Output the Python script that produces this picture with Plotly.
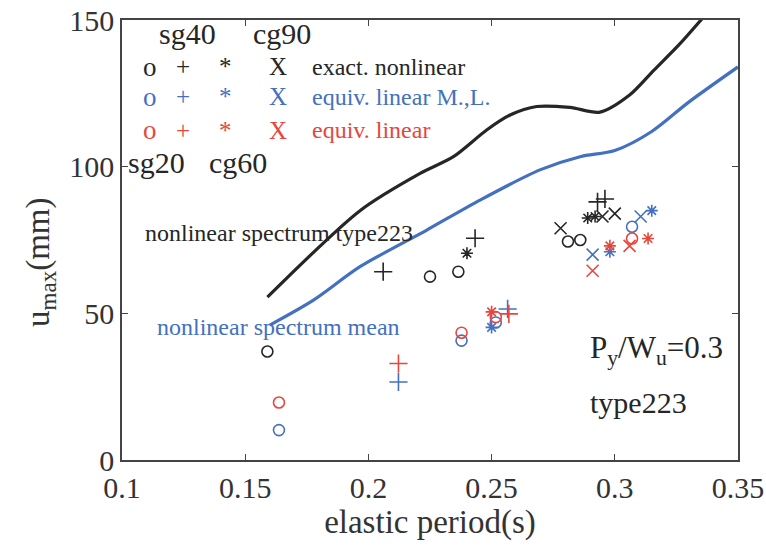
import plotly.graph_objects as go

# ---------------- data ----------------
# spectrum curves
nl_type_x = [0.159, 0.1966, 0.221, 0.2345, 0.248, 0.2575, 0.2683, 0.2818, 0.294, 0.306, 0.316, 0.326, 0.336]
nl_type_y = [55.5, 85.0, 97.7, 103.4, 112.5, 117.6, 120.5, 120.2, 118.6, 124.4, 133.0, 141.5, 151.0]
nl_mean_x = [0.160, 0.1777, 0.1966, 0.2237, 0.2453, 0.2696, 0.2859, 0.300, 0.315, 0.330, 0.350]
nl_mean_y = [46.0, 54.5, 65.9, 78.4, 88.6, 98.9, 103.4, 105.5, 112.0, 122.0, 134.0]

# exact nonlinear (black)
ex_o_x = [0.159, 0.225, 0.2365, 0.281, 0.286]
ex_o_y = [37.0, 62.5, 64.2, 74.5, 75.0]
ex_p_x = [0.206, 0.2433, 0.293, 0.296]
ex_p_y = [64.2, 75.6, 88.0, 89.0]
ex_s_x = [0.240, 0.289, 0.292]
ex_s_y = [70.5, 82.5, 83.0]
ex_x_x = [0.278, 0.295, 0.300]
ex_x_y = [79.0, 83.0, 84.0]

# equiv. linear M.,L. (blue)
ml_o_x = [0.1637, 0.2378, 0.2517, 0.307]
ml_o_y = [10.2, 40.7, 46.9, 79.5]
ml_p_x = [0.2122, 0.2565]
ml_p_y = [26.6, 51.5]
ml_s_x = [0.250, 0.298, 0.315]
ml_s_y = [45.2, 71.0, 85.0]
ml_x_x = [0.291, 0.3105]
ml_x_y = [70.0, 83.0]

# equiv. linear (red)
el_o_x = [0.1637, 0.2378, 0.2517, 0.307]
el_o_y = [19.6, 43.4, 48.7, 75.5]
el_p_x = [0.2122, 0.257]
el_p_y = [32.9, 49.8]
el_s_x = [0.250, 0.298, 0.3135]
el_s_y = [50.5, 73.0, 75.5]
el_x_x = [0.291, 0.306]
el_x_y = [64.5, 73.0]

x_ticks = [0.1, 0.15, 0.2, 0.25, 0.3, 0.35]
x_tick_labels = ["0.1", "0.15", "0.2", "0.25", "0.3", "0.35"]
y_ticks = [0, 50, 100, 150]
y_tick_labels = ["0", "50", "100", "150"]

BLACK = "#262626"
BLUE = "#4470c0"
RED = "#e8453c"
FONT = "Times New Roman, Liberation Serif, DejaVu Serif, serif"

fig = go.Figure()

fig.add_trace(go.Scatter(x=nl_type_x, y=nl_type_y, mode="lines", line=dict(color=BLACK, width=3.2, shape="spline", smoothing=0.8)))
fig.add_trace(go.Scatter(x=nl_mean_x, y=nl_mean_y, mode="lines", line=dict(color=BLUE, width=3.2, shape="spline", smoothing=0.8)))

def pts(xs, ys, color, sym, size):
    fig.add_trace(go.Scatter(x=xs, y=ys, mode="markers",
                             marker=dict(symbol=sym, size=size, color=color,
                                         line=dict(color=color, width=1.6))))

for (ox, oy, px_, py_, sx, sy, xx, xy, col) in [
        (ex_o_x, ex_o_y, ex_p_x, ex_p_y, ex_s_x, ex_s_y, ex_x_x, ex_x_y, BLACK),
        (ml_o_x, ml_o_y, ml_p_x, ml_p_y, ml_s_x, ml_s_y, ml_x_x, ml_x_y, BLUE),
        (el_o_x, el_o_y, el_p_x, el_p_y, el_s_x, el_s_y, el_x_x, el_x_y, RED)]:
    pts(ox, oy, col, "circle-open", 11)
    pts(px_, py_, col, "cross-thin-open", 13)
    pts(sx, sy, col, "asterisk-open", 10)
    pts(xx, xy, col, "x-thin-open", 12)

ann = []
def txt(x, y, s, color=BLACK, size=24, xanchor="center"):
    ann.append(dict(x=x, y=y, xref="x", yref="y", text=s, showarrow=False,
                    xanchor=xanchor, yanchor="middle",
                    font=dict(family=FONT, size=size, color=color)))

# legend-like header
txt(0.1264, 145.5, "sg40", size=30)
txt(0.165, 145.5, "cg90", size=30)
txt(0.1142, 101.3, "sg20", size=30)
txt(0.147, 101.3, "cg60", size=30)
rows = [(134.0, BLACK, "exact. nonlinear"), (123.8, BLUE, "equiv. linear M.,L."), (112.5, RED, "equiv. linear")]
for ry, col, label in rows:
    txt(0.1114, ry, "o", col, 27)
    txt(0.1248, ry, "+", col, 25)
    txt(0.1418, ry, "*", col, 25)
    txt(0.1633, ry, "X", col, 25)
    txt(0.1763, ry, label, col, 24, "left")

txt(0.1085, 77.4, "nonlinear spectrum type223", BLACK, 24, "left")
txt(0.1134, 45.3, "nonlinear spectrum mean", BLUE, 24, "left")
txt(0.289, 37.5, "P<sub>y</sub>/W<sub>u</sub>=0.3", BLACK, 31, "left")
txt(0.289, 19.5, "type223", BLACK, 30, "left")

# y-axis title as rotated text
ann.append(dict(x=-0.133, y=0.45, xref="paper", yref="paper", text="u<sub>max</sub>(mm)",
                showarrow=False, textangle=-90, xanchor="center", yanchor="middle",
                font=dict(family=FONT, size=33, color="#333333")))

axis_common = dict(showgrid=False, zeroline=False, showline=True, linecolor="#444444", linewidth=1.5,
                   mirror="ticks", ticks="inside", ticklen=6, tickcolor="#444444", automargin=False,
                   tickfont=dict(family=FONT, size=30, color="#333333"))

fig.update_layout(
    width=766, height=546,
    margin=dict(l=122, r=28, t=20, b=86),
    paper_bgcolor="white", plot_bgcolor="white",
    showlegend=False,
    annotations=ann,
    xaxis=dict(range=[0.1, 0.35], tickvals=x_ticks, ticktext=x_tick_labels,
               title=dict(text="elastic period(s)", font=dict(family=FONT, size=33, color="#333333"), standoff=2),
               **axis_common),
    yaxis=dict(range=[0, 150], tickvals=y_ticks, ticktext=y_tick_labels,
               **axis_common),
)

fig.write_html("out.html")
